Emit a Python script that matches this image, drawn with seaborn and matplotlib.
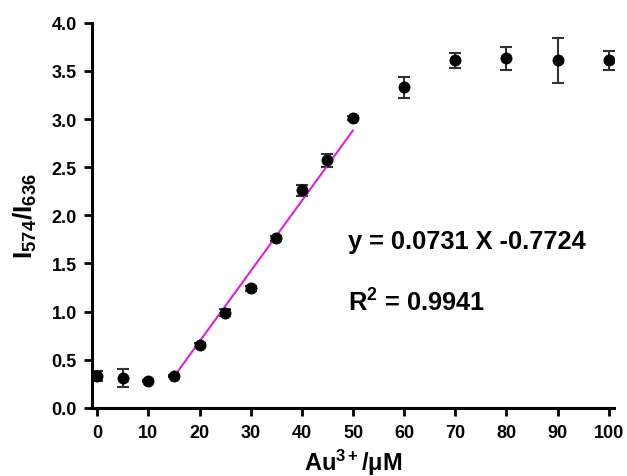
import matplotlib
matplotlib.use("Agg")
import matplotlib.pyplot as plt
import seaborn as sns
import numpy as np
import pandas as pd

conc = [0, 5, 10, 15, 20, 25, 30, 35, 40, 45, 50, 60, 70, 80, 90, 100]
ratio = [0.33, 0.31, 0.28, 0.33, 0.65, 0.99, 1.24, 1.76, 2.26, 2.57, 3.01, 3.33, 3.61, 3.63, 3.61, 3.61]
err = [0.05, 0.09, 0.01, 0.01, 0.02, 0.04, 0.03, 0.03, 0.06, 0.07, 0.02, 0.11, 0.08, 0.12, 0.23, 0.10]
fit_range = [15, 50]
slope = 0.0731
intercept = -0.7724
x_ticks = [0, 10, 20, 30, 40, 50, 60, 70, 80, 90, 100]
y_ticks = [0.0, 0.5, 1.0, 1.5, 2.0, 2.5, 3.0, 3.5, 4.0]

sns.set_theme(style="ticks")
plt.rcParams['font.family'] = ['Liberation Sans', 'DejaVu Sans']
plt.rcParams['font.weight'] = 'bold'
plt.rcParams['text.color'] = 'black'
plt.rcParams['axes.labelcolor'] = 'black'
plt.rcParams['xtick.color'] = 'black'
plt.rcParams['ytick.color'] = 'black'
plt.rcParams['mathtext.fontset'] = 'custom'
plt.rcParams['mathtext.rm'] = 'Liberation Sans:bold'
plt.rcParams['mathtext.bf'] = 'Liberation Sans:bold'
plt.rcParams['mathtext.it'] = 'Liberation Sans:bold'

df = pd.DataFrame({"conc": conc, "ratio": ratio, "err": err})
fit_df = pd.DataFrame({"x": fit_range, "y": [slope * v + intercept for v in fit_range]})

fig = plt.figure(figsize=(6.27, 4.77), dpi=100)
ax = fig.add_axes([0.147, 0.143, 0.832, 0.807])

ax.errorbar(df["conc"], df["ratio"], yerr=df["err"], fmt='none', ecolor='#333333',
            elinewidth=1.5, capsize=4, capthick=1.5, zorder=2)
sns.lineplot(data=fit_df, x="x", y="y", color="#e020e0", linewidth=1.5, ax=ax, zorder=3)
sns.scatterplot(data=df, x="conc", y="ratio", color="black", s=65, edgecolor="black",
                linewidth=0.5, ax=ax, zorder=4)

ax.set_xlim(-1, 101)
ax.set_ylim(0, 4.0)
ax.set_xticks(x_ticks)
ax.set_yticks(y_ticks)
ax.set_xticklabels([str(v) for v in x_ticks], fontsize=13, fontweight='bold')
ax.set_yticklabels([f"{v:.1f}" for v in y_ticks], fontsize=13, fontweight='bold')
ax.tick_params(axis='both', direction='out', length=6, width=2, colors='black')
ax.tick_params(axis='y', pad=5)
ax.tick_params(axis='x', pad=6)

for side in ['top', 'right']:
    ax.spines[side].set_visible(False)
for side in ['left', 'bottom']:
    ax.spines[side].set_linewidth(2.2)
    ax.spines[side].set_color('black')

ax.set_xlabel(r'Au$^{3+}$/μM', fontsize=17, fontweight='bold', labelpad=4)
ax.set_ylabel(r'$\mathbf{I_{574}/I_{636}}$', fontsize=19, labelpad=9)

fig.text(0.555, 0.493, "y = 0.0731 X -0.7724", fontsize=18.3, fontweight='bold',
         va='center', ha='left')
fig.text(0.555, 0.365, r"R$^{2}$ = 0.9941", fontsize=18.3, fontweight='bold',
         va='center', ha='left')

fig.savefig("out.png", dpi=100)
